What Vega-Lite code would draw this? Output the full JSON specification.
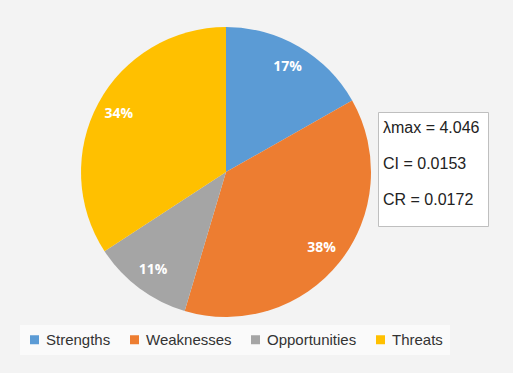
{
  "$schema": "https://vega.github.io/schema/vega-lite/v6.json",
  "width": 452,
  "height": 344,
  "autosize": {"type": "none"},
  "padding": {"left": 0, "top": 0, "right": 61, "bottom": 29},
  "background": "#F3F3F3",
  "view": {"stroke": null},
  "datasets": {
    "swot": [
      {"factor": "Strengths", "share": 16.8, "label": "17%", "rank": 1},
      {"factor": "Weaknesses", "share": 37.8, "label": "38%", "rank": 2},
      {"factor": "Opportunities", "share": 11.2, "label": "11%", "rank": 3},
      {"factor": "Threats", "share": 34.2, "label": "34%", "rank": 4}
    ],
    "stats": [
      {"stat": "λmax = 4.046"},
      {"stat": "CI = 0.0153"},
      {"stat": "CR = 0.0172"}
    ]
  },
  "layer": [
    {
      "data": {"name": "swot"},
      "mark": {"type": "arc", "outerRadius": 145},
      "encoding": {
        "theta": {"field": "share", "type": "quantitative", "stack": true},
        "order": {"field": "rank", "type": "quantitative"},
        "color": {
          "field": "factor",
          "type": "nominal",
          "scale": {
            "domain": ["Strengths", "Weaknesses", "Opportunities", "Threats"],
            "range": ["#5B9BD5", "#ED7D31", "#A5A5A5", "#FFC000"]
          },
          "legend": {
            "title": null,
            "orient": "none",
            "direction": "horizontal",
            "legendX": 20,
            "legendY": 325,
            "padding": 7,
            "fillColor": "#FAFAFA",
            "symbolType": "square",
            "symbolSize": 81,
            "symbolStrokeWidth": 0,
            "labelFont": "Liberation Sans",
            "labelFontSize": 15,
            "labelColor": "#333333",
            "labelOffset": 4,
            "columnPadding": 16
          }
        }
      }
    },
    {
      "data": {"name": "swot"},
      "mark": {"type": "text", "radius": 122, "font": "Open Sans", "fontSize": 14, "fontWeight": "bold", "color": "white"},
      "encoding": {
        "theta": {"field": "share", "type": "quantitative", "stack": true},
        "order": {"field": "rank", "type": "quantitative"},
        "text": {"field": "label", "type": "nominal"}
      }
    },
    {
      "data": {"name": "stats"},
      "mark": {"type": "point", "opacity": 0},
      "encoding": {
        "shape": {
          "field": "stat",
          "type": "nominal",
          "scale": {"domain": ["λmax = 4.046", "CI = 0.0153", "CR = 0.0172"]},
          "legend": {
            "title": " ",
            "titleOrient": "bottom",
            "titleFontSize": 8,
            "titlePadding": 2,
            "orient": "none",
            "legendX": 378,
            "legendY": 112,
            "padding": 8,
            "fillColor": "white",
            "strokeColor": "#BFBFBF",
            "symbolSize": 0,
            "symbolOpacity": 0,
            "symbolStrokeWidth": 0,
            "labelOffset": -19,
            "labelFont": "Liberation Sans",
            "labelFontSize": 16,
            "labelColor": "#222222",
            "rowPadding": 20
          }
        }
      }
    }
  ]
}
